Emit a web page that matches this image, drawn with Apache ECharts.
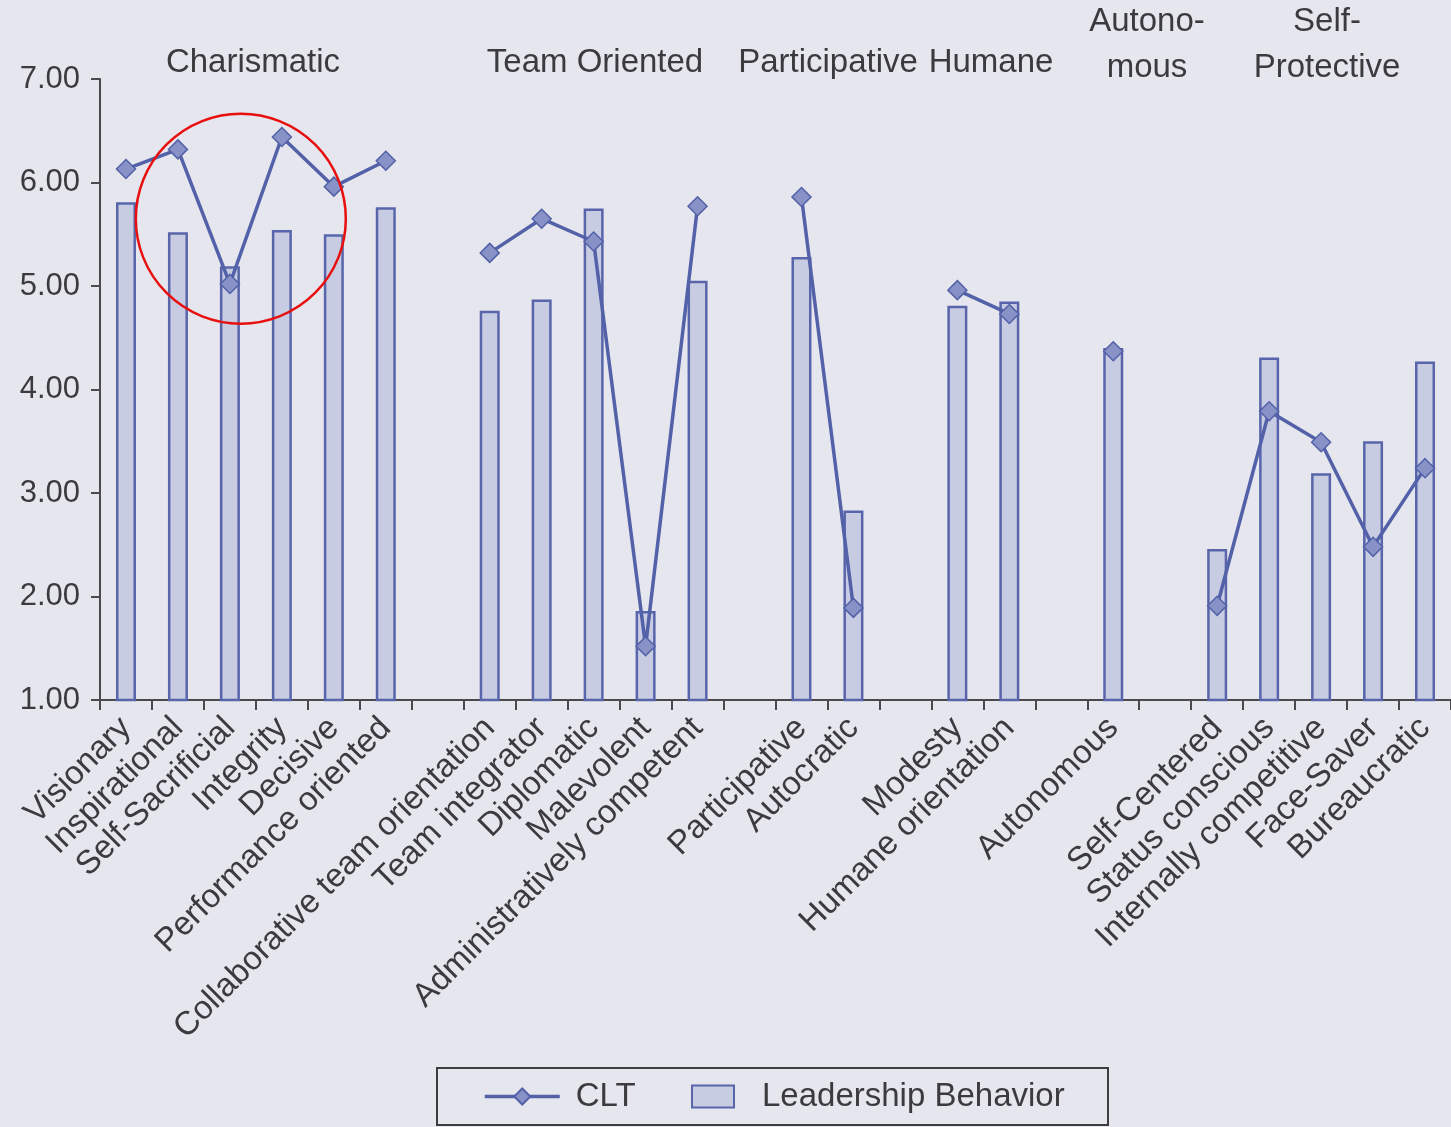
<!DOCTYPE html>
<html>
<head>
<meta charset="utf-8">
<script src="https://cdn.jsdelivr.net/npm/echarts@6.0.0/dist/echarts.min.js"></script>
<style>
    html, body {margin: 0; padding: 0; background: #e6e6ee;}
    #chart {width: 1451px; height: 1127px;}
</style>
</head>
<body>
<div id="chart"></div>
<script>
// 类别（空字符串为分组间的空位）
var categories = [
    'Visionary', 'Inspirational', 'Self-Sacrificial', 'Integrity', 'Decisive', 'Performance oriented',
    '',
    'Collaborative team orientation', 'Team integrator', 'Diplomatic', 'Malevolent', 'Administratively competent',
    '',
    'Participative', 'Autocratic',
    '',
    'Modesty', 'Humane orientation',
    '',
    'Autonomous',
    '',
    'Self-Centered', 'Status conscious', 'Internally competitive', 'Face-Saver', 'Bureaucratic'
];

// Leadership Behavior 柱状值
var behaviorValues = [
    5.81, 5.52, 5.19, 5.54, 5.50, 5.76,
    null,
    4.76, 4.87, 5.75, 1.86, 5.05,
    null,
    5.28, 2.83,
    null,
    4.81, 4.85,
    null,
    4.40,
    null,
    2.46, 4.31, 3.19, 3.50, 4.27
];

// CLT 折线值
var cltValues = [
    6.13, 6.32, 5.02, 6.44, 5.96, 6.21,
    null,
    5.32, 5.65, 5.43, 1.52, 5.77,
    null,
    5.86, 1.89,
    null,
    4.96, 4.73,
    null,
    4.37,
    null,
    1.91, 3.79, 3.49, 2.48, 3.24
];

// 分组标题
var groupTitles = ['Charismatic', 'Team Oriented', 'Participative', 'Humane', 'Autono-\nmous', 'Self-\nProtective'];

var yTicks = [1, 2, 3, 4, 5, 6, 7];

var fontFamily = '"Liberation Sans", Arial, Helvetica, sans-serif';
var textColor = '#3b3b3f';
var lineColor = '#5361a8';

var chart = echarts.init(document.getElementById('chart'));

var option = {
    backgroundColor: '#e6e6ee',
    animation: false,
    textStyle: {fontFamily: fontFamily},
    grid: {
        left: 100,
        right: 0,
        top: 79,
        bottom: 427,
        containLabel: false
    },
    legend: [
        {
            data: ['CLT'],
            left: 478,
            top: 1075,
            itemWidth: 75,
            itemHeight: 20,
            lineStyle: {width: 3.5},
            textStyle: {fontSize: 33, color: textColor, fontFamily: fontFamily, padding: [0, 0, 0, 11]}
        },
        {
            data: [{name: 'Leadership Behavior', icon: 'rect'}],
            left: 686,
            top: 1075,
            itemWidth: 42,
            itemHeight: 22,
            textStyle: {fontSize: 33, color: textColor, fontFamily: fontFamily, padding: [0, 0, 0, 23]}
        }
    ],
    xAxis: {
        type: 'category',
        data: categories,
        boundaryGap: true,
        axisLine: {lineStyle: {color: '#4a4a4e', width: 2}},
        axisTick: {show: true, interval: 0, length: 10, lineStyle: {color: '#4a4a4e', width: 2}},
        axisLabel: {
            interval: 0,
            rotate: 45,
            margin: 23,
            fontSize: 33,
            color: textColor,
            fontFamily: fontFamily
        },
        splitLine: {show: false}
    },
    yAxis: {
        type: 'value',
        min: yTicks[0],
        max: yTicks[yTicks.length - 1],
        interval: 1,
        axisLine: {show: true, lineStyle: {color: '#4a4a4e', width: 2}},
        axisTick: {show: true, length: 9, lineStyle: {color: '#4a4a4e', width: 2}},
        axisLabel: {
            margin: 20,
            fontSize: 31,
            color: textColor,
            fontFamily: fontFamily,
            formatter: function (v) {
                return v.toFixed(2);
            }
        },
        splitLine: {show: false}
    },
    series: [
        {
            name: 'Leadership Behavior',
            type: 'bar',
            data: behaviorValues,
            barWidth: 20,
            itemStyle: {
                color: '#c8cce3',
                borderColor: '#5865aa',
                borderWidth: 2.5
            }
        },
        {
            name: 'CLT',
            type: 'line',
            data: cltValues,
            connectNulls: false,
            symbol: 'diamond',
            symbolSize: 19,
            lineStyle: {color: lineColor, width: 3.5},
            itemStyle: {
                color: '#8892c6',
                borderColor: lineColor,
                borderWidth: 1.5
            },
            z: 5
        }
    ]
};

chart.setOption(option);

// 分组标题与注释圆圈
var titleX = [253, 595, 828, 991, 1147, 1327];
var graphics = groupTitles.map(function (t, i) {
    var twoLines = t.indexOf('\n') >= 0;
    return {
        type: 'text',
        x: titleX[i],
        y: twoLines ? 45 : 63,
        style: {
            text: t,
            fill: textColor,
            font: '33px ' + fontFamily,
            align: 'center',
            verticalAlign: 'middle',
            lineHeight: 46
        }
    };
});

var p2 = chart.convertToPixel({seriesIndex: 0}, [2, 5.65]);
var p3 = chart.convertToPixel({seriesIndex: 0}, [3, 5.65]);
graphics.push({
    type: 'circle',
    shape: {cx: p2[0] + (p3[0] - p2[0]) * 0.21, cy: p2[1], r: 105},
    style: {fill: 'none', stroke: '#e8100f', lineWidth: 2.5},
    z: 20
});

// 图例外框
graphics.push({
    type: 'rect',
    shape: {x: 437, y: 1068, width: 671, height: 57},
    style: {fill: 'none', stroke: '#3d3d40', lineWidth: 2},
    z: 20
});

chart.setOption({graphic: graphics});
</script>
</body>
</html>
